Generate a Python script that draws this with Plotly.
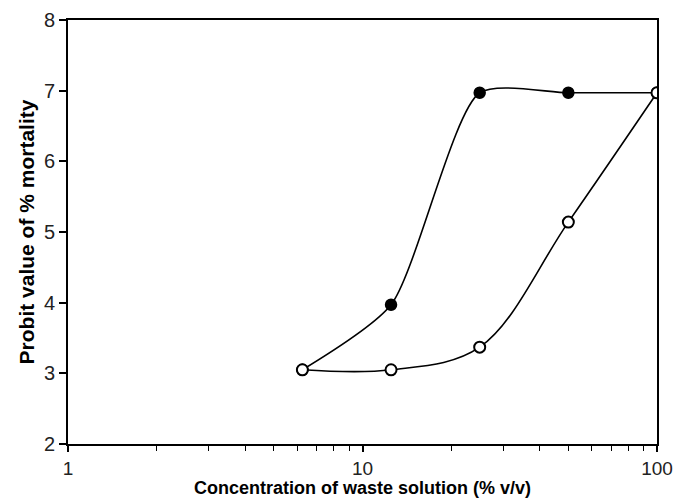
import plotly.graph_objects as go

# Concentration of waste solution (% v/v)
conc = [6.25, 12.5, 25, 50, 100]

# Probit values of % mortality for the two series
probit_filled = [3.05, 3.97, 6.97, 6.97, 6.97]
probit_open = [3.05, 3.05, 3.37, 5.14, 6.97]

x_ticks = [1, 10, 100]
x_minor = [2, 3, 4, 5, 6, 7, 8, 9, 20, 30, 40, 50, 60, 70, 80, 90]
y_ticks = [2, 3, 4, 5, 6, 7, 8]

fig = go.Figure()

fig.add_trace(go.Scatter(
    x=conc, y=probit_filled, mode="lines+markers",
    line=dict(color="black", width=1.6, shape="spline", smoothing=0.65),
    marker=dict(symbol="circle", size=11, color="black",
                line=dict(color="black", width=1.5)),
    showlegend=False,
))

fig.add_trace(go.Scatter(
    x=conc, y=probit_open, mode="lines+markers",
    line=dict(color="black", width=1.6, shape="spline", smoothing=1.0),
    marker=dict(symbol="circle", size=11, color="white",
                line=dict(color="black", width=2)),
    showlegend=False,
))

family = "Liberation Sans, Arial, sans-serif"
x_tick_font = dict(family=family, size=19, color="#222")
y_tick_font = dict(family=family, size=20, color="#222")

fig.update_layout(
    width=675, height=498,
    margin=dict(l=68, r=18, t=20, b=54),
    paper_bgcolor="white", plot_bgcolor="white",
    font=y_tick_font,
    xaxis=dict(
        type="log", range=[0, 2], automargin=False,
        tickvals=x_ticks, ticktext=[str(v) for v in x_ticks],
        ticks="outside", ticklen=6, tickwidth=1.5, tickcolor="black",
        minor=dict(ticks="outside", ticklen=5, tickwidth=1.3, tickcolor="black",
                   tickvals=x_minor),
        showline=True, linecolor="black", linewidth=2, mirror=True,
        showgrid=False, zeroline=False,
        tickfont=x_tick_font,
        title=dict(text="<b>Concentration of waste solution (% v/v)</b>",
                   font=dict(family=family, size=18, color="black"), standoff=0),
    ),
    yaxis=dict(
        range=[2, 8], tickvals=y_ticks, automargin=False,
        ticks="outside", ticklen=7, tickwidth=1.5, tickcolor="black",
        showline=True, linecolor="black", linewidth=2, mirror=True,
        showgrid=False, zeroline=False,
        tickfont=y_tick_font,
        title=dict(text="<b>Probit value of % mortality</b>",
                   font=dict(family=family, size=21, color="black"), standoff=4),
    ),
)

fig.write_html("out.html")
